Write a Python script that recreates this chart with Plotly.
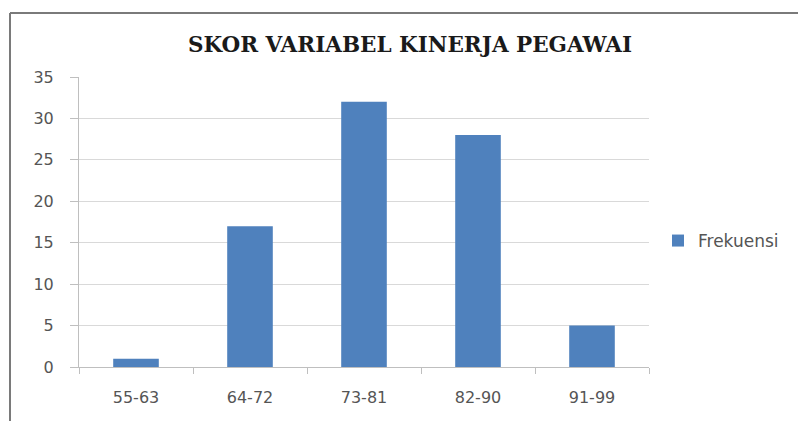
import plotly.graph_objects as go

# Score classes and frequency counts
categories = ["55-63", "64-72", "73-81", "82-90", "91-99"]
frekuensi = [1, 17, 32, 28, 5]
y_ticks = [0, 5, 10, 15, 20, 25, 30, 35]

W, H = 798, 421
L, R, T, B = 79, 149, 77, 54
pw, ph = W - L - R, H - T - B


def px_x(px):
    return (px - L) / pw


def px_y(py):
    return (H - B - py) / ph


fig = go.Figure(
    go.Bar(
        x=categories,
        y=frekuensi,
        name="Frekuensi",
        marker=dict(color="#4F81BD", line=dict(width=0)),
        width=0.4,
        showlegend=True,
    )
)

axis_font = dict(family="DejaVu Sans, sans-serif", size=16, color="#555555")
legend_font = dict(family="DejaVu Sans, sans-serif", size=17, color="#555555")

fig.update_layout(
    width=W,
    height=H,
    margin=dict(l=L, r=R, t=T, b=B),
    paper_bgcolor="white",
    plot_bgcolor="white",
    title=dict(
        text="<b>SKOR VARIABEL KINERJA PEGAWAI</b>",
        font=dict(family="DejaVu Serif, serif", size=21.5, color="#1a1a1a"),
        x=410 / W,
        xanchor="center",
        y=1 - 44 / H,
        yanchor="middle",
    ),
    xaxis=dict(
        type="category",
        showgrid=False,
        showline=True,
        linecolor="#bfbfbf",
        linewidth=1,
        ticks="outside",
        tickson="boundaries",
        ticklen=6,
        tickcolor="#bfbfbf",
        tickfont=axis_font,
        ticklabelstandoff=16,
    ),
    yaxis=dict(
        range=[0, 35],
        tickvals=y_ticks,
        showgrid=True,
        gridcolor="#d9d9d9",
        gridwidth=1,
        zeroline=False,
        showline=True,
        linecolor="#bfbfbf",
        linewidth=1,
        ticks="outside",
        ticklen=8,
        tickcolor="#bfbfbf",
        tickfont=axis_font,
        ticklabelstandoff=13,
    ),
    legend=dict(
        x=px_x(658),
        y=px_y(241),
        xanchor="left",
        yanchor="middle",
        font=legend_font,
        bgcolor="rgba(0,0,0,0)",
        itemwidth=30,
    ),
    shapes=[
        # outer chart frame (left and top edges)
        dict(type="line", xref="paper", yref="paper",
             x0=px_x(10), x1=px_x(10), y0=px_y(13), y1=px_y(440),
             line=dict(color="#7a7a7a", width=2)),
        dict(type="line", xref="paper", yref="paper",
             x0=px_x(10), x1=px_x(820), y0=px_y(13), y1=px_y(13),
             line=dict(color="#7a7a7a", width=2)),
    ],
)

fig.write_html("out.html")
